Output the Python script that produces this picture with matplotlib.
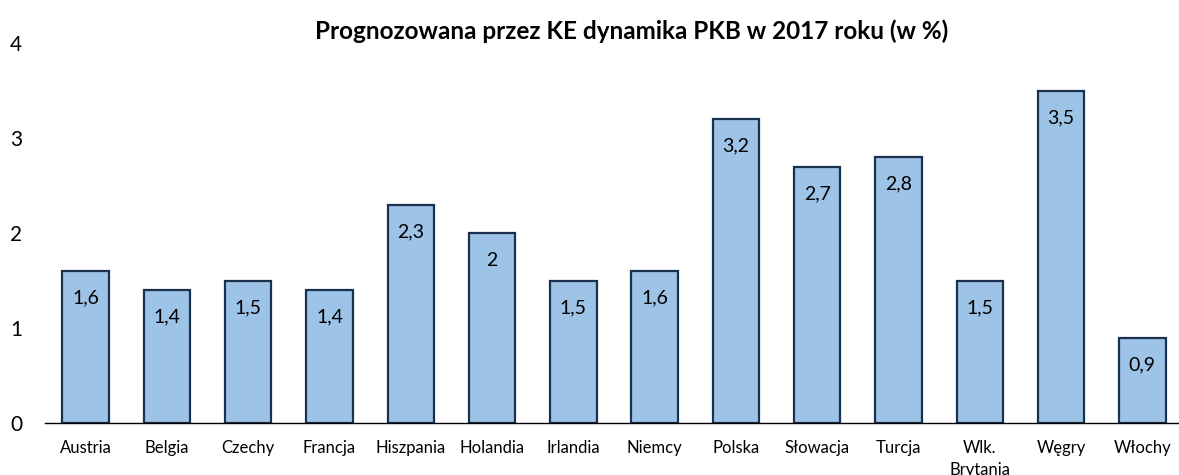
import matplotlib
matplotlib.use("Agg")
import matplotlib.pyplot as plt

plt.rcParams["font.family"] = ["Lato", "DejaVu Sans"]

# Dane: prognoza dynamiki PKB 2017 (w %)
COUNTRIES = ["Austria", "Belgia", "Czechy", "Francja", "Hiszpania", "Holandia",
             "Irlandia", "Niemcy", "Polska", "Słowacja", "Turcja", "Wlk.\nBrytania",
             "Węgry", "Włochy"]
GDP = [1.6, 1.4, 1.5, 1.4, 2.3, 2.0, 1.5, 1.6, 3.2, 2.7, 2.8, 1.5, 3.5, 0.9]
Y_TICKS = [0, 1, 2, 3, 4]

BAR_COLOR = "#9DC3E6"
EDGE_COLOR = "#1B2F4E"


def fmt(v):
    s = ("%.1f" % v).replace(".", ",")
    if s.endswith(",0"):
        s = s[:-2]
    return s


def main():
    fig = plt.figure(figsize=(11.79, 4.75), dpi=100)
    ax = fig.add_axes([45 / 1179, 52 / 475, 1138 / 1179, 380 / 475])

    x = range(len(COUNTRIES))
    ax.bar(x, GDP, width=0.57, color=BAR_COLOR, edgecolor=EDGE_COLOR, linewidth=1.6)

    for i, v in zip(x, GDP):
        ax.annotate(fmt(v), (i, v), xytext=(0, -27), textcoords="offset pixels",
                    ha="center", va="center", fontsize=14, color="black")

    ax.set_xlim(-0.5, len(COUNTRIES) - 0.5)
    ax.set_ylim(0, 4)
    ax.set_yticks(Y_TICKS)
    ax.set_xticks(list(x))
    ax.set_xticklabels(COUNTRIES, fontsize=12, linespacing=1.45, va="top")
    ax.tick_params(axis="x", length=0, pad=12)
    ax.tick_params(axis="y", length=0, labelsize=15, pad=25)
    for lbl in ax.get_yticklabels():
        lbl.set_horizontalalignment("left")
    for s in ["top", "right", "left"]:
        ax.spines[s].set_visible(False)
    ax.spines["bottom"].set_linewidth(1.0)

    fig.text(0.536, 0.935, "Prognozowana przez KE dynamika PKB w 2017 roku (w %)",
             ha="center", va="center", fontsize=17.5, fontweight="bold")

    fig.savefig("out.png", dpi=100)


if __name__ == "__main__":
    main()
